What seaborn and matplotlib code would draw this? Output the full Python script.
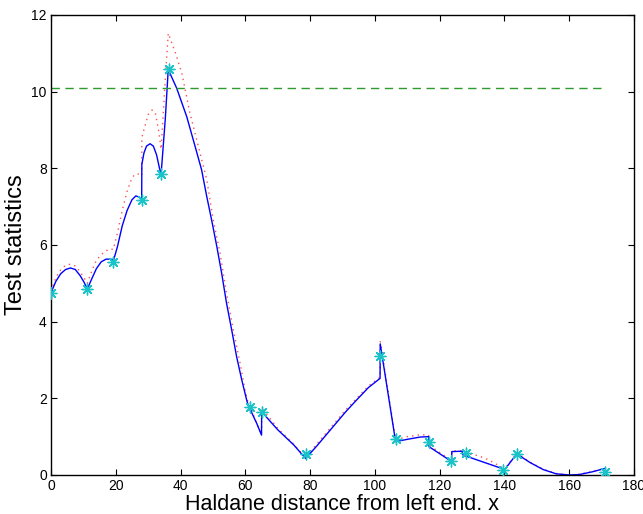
import numpy as np
import pandas as pd
import seaborn as sns
import matplotlib
matplotlib.use("Agg")
import matplotlib.pyplot as plt

# blue solid curve (test statistic)
blue_x = [0, 1.5, 3, 4.5, 6, 7.5, 9, 10.2, 11.2, 12.5, 14, 15.5, 17, 18.5, 19.1, 19.2,
          20.5, 22, 23.5, 25, 26.2, 27.2, 28.0, 28.05, 28.7, 29.5, 30.6, 31.6, 32.6, 33.5,
          34.0, 35.3, 36.2, 38.8, 41.9, 44.5, 46.5, 48.1, 49.6, 51.2, 52.7, 54.2, 55.8,
          57.3, 58.9, 60.4, 61.3, 61.5, 62, 63.5, 65, 65.05, 70, 75, 78.6, 82, 87, 91,
          94.4, 98, 101.6, 101.65, 106.4, 110, 114, 116.6, 116.7, 123.7, 123.75, 126.9,
          127.2, 139.2, 139.6, 143.8, 148, 152, 156, 160, 163, 167, 171]
blue_y = [4.75, 5.05, 5.25, 5.36, 5.40, 5.36, 5.2, 5.03, 4.85, 5.1, 5.38, 5.56, 5.63, 5.63,
          5.62, 5.57, 5.95, 6.5, 6.9, 7.18, 7.28, 7.25, 7.17, 8.1, 8.4, 8.58, 8.64, 8.58,
          8.35, 8.0, 7.85, 9.3, 10.58, 10.09, 9.35, 8.57, 7.96, 7.26, 6.65, 5.96, 5.26,
          4.48, 3.78, 3.09, 2.48, 1.96, 1.70, 1.80, 1.62, 1.35, 1.04, 1.65, 1.18, 0.78,
          0.43, 0.75, 1.25, 1.65, 1.96, 2.28, 2.52, 3.42, 0.87, 0.93, 0.99, 1.0, 0.74,
          0.35, 0.61, 0.62, 0.52, 0.17, 0.09, 0.55, 0.32, 0.14, 0.03, 0.0, 0.01, 0.08, 0.17]

# red dotted curve
red_x = [0, 1.5, 3, 4.5, 6, 7.5, 9, 10.5, 11.2, 12.5, 14, 15.5, 17, 18.5, 19.2, 20.5, 22,
         23.5, 25, 26, 27, 28, 28.05, 29, 30, 31.2, 32.2, 33.2, 34, 35.2, 36.2, 38.3,
         40.4, 42.9, 45.5, 48.1, 50.1, 52.2, 54.2, 56.3, 58.4, 59.9, 60.9, 61.5, 63, 65,
         65.05, 70, 75, 78.6, 82, 87, 91, 94.4, 98, 101.6, 101.65, 106.4, 110, 114,
         116.6, 116.7, 123.7, 123.75, 127, 128, 132, 135, 139.2, 139.6, 143.8, 148, 152,
         156, 160, 163, 167, 171]
red_y = [4.8, 5.15, 5.35, 5.47, 5.5, 5.45, 5.3, 5.1, 5.0, 5.3, 5.6, 5.75, 5.85, 5.9, 5.88,
         6.3, 6.9, 7.4, 7.75, 7.85, 7.85, 7.8, 8.8, 9.1, 9.4, 9.52, 9.45, 9.0, 8.5, 10.2,
         11.52, 11.04, 10.48, 9.44, 8.57, 7.70, 6.65, 5.78, 4.74, 3.78, 2.91, 2.22, 1.87,
         1.80, 1.45, 1.05, 1.75, 1.22, 0.8, 0.45, 0.8, 1.3, 1.7, 2.0, 2.32, 2.55, 3.5,
         0.92, 1.0, 1.05, 1.04, 0.78, 0.37, 0.63, 0.63, 0.57, 0.5, 0.4, 0.2, 0.1, 0.57,
         0.33, 0.15, 0.04, 0.0, 0.02, 0.09, 0.17]

# marker positions
mark_x = [0, 11.2, 19.2, 28.0, 34.0, 36.3, 61.4, 65.0, 78.6, 101.6, 106.4, 116.7,
          123.6, 128.0, 139.5, 143.8, 171.0]
mark_y = [4.75, 4.85, 5.56, 7.17, 7.85, 10.6, 1.78, 1.63, 0.55, 3.1, 0.93, 0.86,
          0.37, 0.57, 0.12, 0.55, 0.08]

# threshold
thr_x = [0, 171]
thr_y = [10.1, 10.1]

sns.set_style("ticks")
plt.rcParams['font.family'] = ['Liberation Sans', 'DejaVu Sans']
plt.rcParams['text.color'] = 'black'
plt.rcParams['axes.labelcolor'] = 'black'
plt.rcParams['xtick.color'] = 'black'
plt.rcParams['ytick.color'] = 'black'
plt.rcParams['axes.edgecolor'] = 'black'

fig = plt.figure(figsize=(6.43, 5.14), dpi=100)
ax = fig.add_axes([0.0793, 0.0759, 0.9067, 0.895])

sns.lineplot(x=red_x, y=red_y, sort=False, estimator=None, ax=ax,
             color='#ff5050', linestyle=(0, (1, 3)), linewidth=1.0)
sns.lineplot(x=blue_x, y=blue_y, sort=False, estimator=None, ax=ax,
             color='#0000ff', linewidth=1.0)
sns.lineplot(x=thr_x, y=thr_y, sort=False, estimator=None, ax=ax,
             color='#2e9b2e', linestyle=(0, (6, 4)), linewidth=1.0)
sns.scatterplot(x=mark_x, y=mark_y, ax=ax, marker=(8, 2, 0), s=60,
                color='#19c3c8', linewidth=1.0, zorder=5)

ax.set_xlim(0, 180)
ax.set_ylim(0, 12)
ax.set_xticks(np.arange(0, 181, 20))
ax.set_yticks(np.arange(0, 13, 2))
ax.tick_params(direction='in', top=True, right=True, length=4, width=0.8,
               labelsize=10, pad=3)
for s in ax.spines.values():
    s.set_linewidth(1.0)
    s.set_visible(True)
ax.set_xlabel('Haldane distance from left end. x', fontsize=15.5, labelpad=0.5)
ax.set_ylabel('Test statistics', fontsize=17, labelpad=3)

fig.savefig('out.png', dpi=100)
